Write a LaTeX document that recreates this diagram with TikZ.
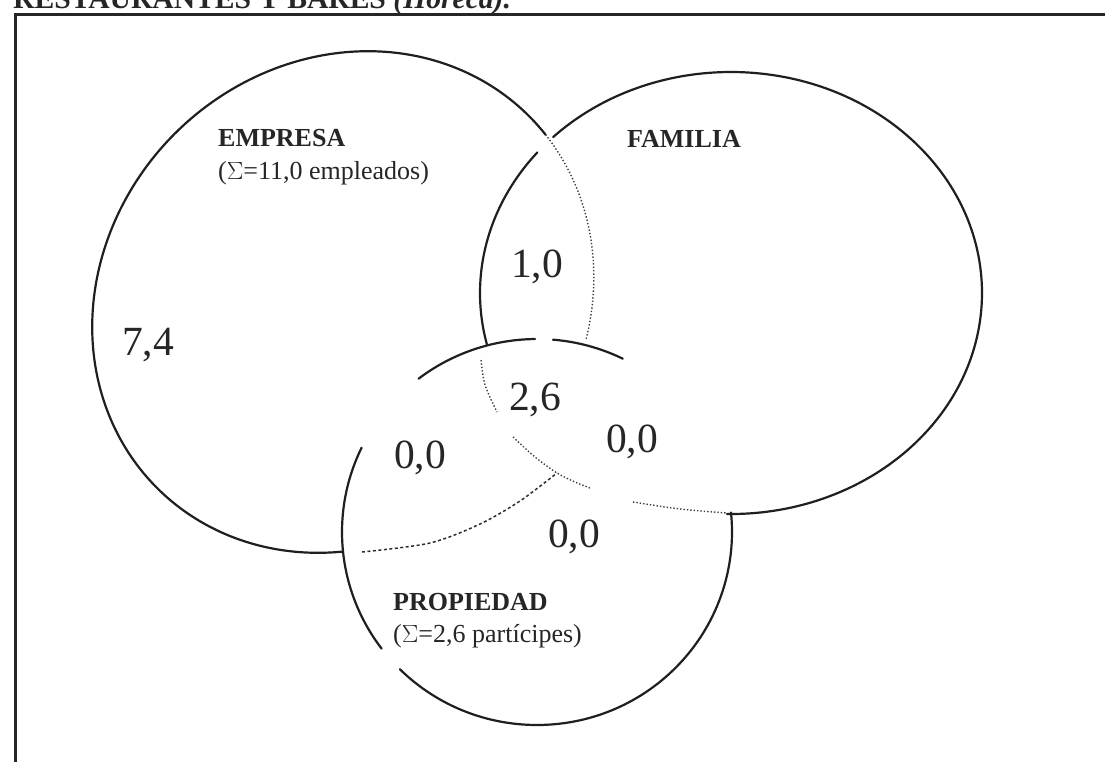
\documentclass[tikz,border=0pt]{standalone}
\usepackage{fontspec}
\setmainfont{Liberation Serif}
\begin{document}
\begin{tikzpicture}[x=1pt,y=-1pt,
  ln/.style={line width=2.2pt, draw=black!88, line cap=round},
  fdot/.style={line width=1.4pt, draw=black!75, dash pattern=on 1.4pt off 2pt},
  fdash/.style={line width=1.5pt, draw=black!82, dash pattern=on 3pt off 2.5pt},
  lab/.style={font=\fontsize{26}{30}\selectfont\bfseries, text=black!85, inner sep=0pt, anchor=base west},
  sub/.style={font=\fontsize{26}{30}\selectfont, text=black!85, inner sep=0pt, anchor=base west},
  num/.style={font=\fontsize{41.5}{45}\selectfont, text=black!85, inner sep=0pt, anchor=base}]
\useasboundingbox (0,0) rectangle (1105,761);
\clip (0,0) rectangle (1105,761);
\fill[white] (0,0) rectangle (1105,761);
% title (cut off at top)
\node[anchor=base west, inner sep=0pt, font=\fontsize{29.6}{32}\selectfont\bfseries, text=black!85] (title) at (13,8) {RESTAURANTES Y BARES \textit{(Horeca).}};
% frame
\draw[line width=3pt, black!85] (15,14.5) rectangle (1200,850);
% EMPRESA: tilted ellipse, centre (343,302), a=263, b=238, 45 deg
\draw[ln] plot[domain=-6:227.6, samples=120, variable=\t, smooth]
  ({343 + 0.7071*(263*cos(\t) - 238*sin(\t))}, {302 - 0.7071*(263*cos(\t) + 238*sin(\t))});
% EMPRESA dotted inside FAMILIA
\draw[fdot] plot[domain=-6:-56.3, samples=40, variable=\t, smooth]
  ({343 + 0.7071*(263*cos(\t) - 238*sin(\t))}, {302 - 0.7071*(263*cos(\t) + 238*sin(\t))});
% EMPRESA dashed inside PROPIEDAD
\draw[fdash] plot[smooth] coordinates {(362,552) (430,543) (480,524) (520,501) (557,473)};
% FAMILIA solid
\draw[ln] (731,293) ++(224.9:251 and 221) arc[start angle=224.9, end angle=450.9, x radius=251, y radius=221];
\draw[ln] (731,293) ++(219.5:251 and 221) arc[start angle=219.5, end angle=166.5, x radius=251, y radius=221];
% FAMILIA dotted inside PROPIEDAD
\draw[fdot] plot[smooth] coordinates {(481,360) (485,385) (497,412)};
\draw[fdot] plot[smooth] coordinates {(513,437) (535,457) (557,473) (575,482) (590,488)};
\draw[fdot] plot[smooth] coordinates {(633,502) (680,509) (727,513)};
% PROPIEDAD solid
\draw[ln] (537,532) ++(232.6:195 and 193) arc[start angle=232.6, end angle=269.4, x radius=195, y radius=193];
\draw[ln] (537,532) ++(274.7:195 and 193) arc[start angle=274.7, end angle=296.1, x radius=195, y radius=193];
\draw[ln] (537,532) ++(205.9:195 and 193) arc[start angle=205.9, end angle=142.8, x radius=195, y radius=193];
\draw[ln] (537,532) ++(134.7:195 and 193) arc[start angle=134.7, end angle=-5.8, x radius=195, y radius=193];
% labels
\node[lab] (emp) at (218,146) {EMPRESA};
\node[sub] (empsum) at (218,179) {($\Sigma$=11,0 empleados)};
\node[lab] (fam) at (627,147) {FAMILIA};
\node[lab] (prop) at (393,610) {PROPIEDAD};
\node[sub] (propsum) at (393,642) {($\Sigma$=2,6 partícipes)};
\node[num] (v74) at (148,355) {7,4};
\node[num] (v10) at (537,277) {1,0};
\node[num] (v26) at (535,410) {2,6};
\node[num] (vfp) at (632,452) {0,0};
\node[num] (vep) at (420,468) {0,0};
\node[num] (vp) at (574,547) {0,0};
\end{tikzpicture}
\end{document}
